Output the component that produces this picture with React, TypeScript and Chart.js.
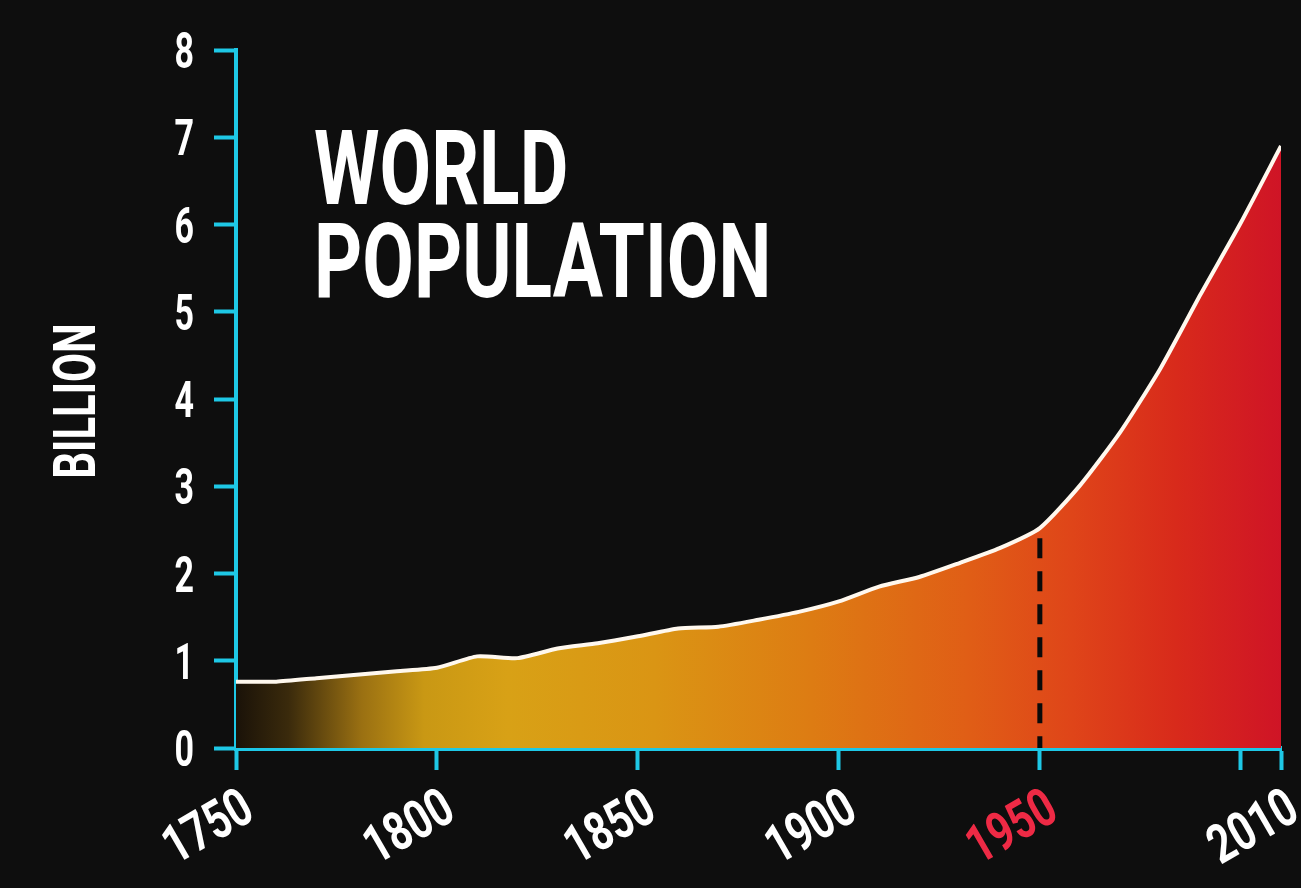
import { useEffect, useRef } from 'react';
import { Chart, registerables } from 'chart.js';

Chart.register(...registerables);

// ---- data ----
const YEARS = [1750, 1760, 1770, 1780, 1790, 1800, 1810, 1820, 1830, 1840, 1850, 1860, 1870, 1880, 1890, 1900, 1910, 1920, 1930, 1940, 1950, 1960, 1970, 1980, 1990, 2000, 2010];
const POPULATION = [0.76, 0.76, 0.8, 0.84, 0.88, 0.92, 1.05, 1.03, 1.14, 1.2, 1.28, 1.37, 1.39, 1.47, 1.56, 1.68, 1.85, 1.96, 2.12, 2.29, 2.52, 3.01, 3.62, 4.35, 5.2, 6.02, 6.9];
const X_TICKS = [1750, 1800, 1850, 1900, 1950, 2000, 2010];
const X_LABELS = ['1750', '1800', '1850', '1900', '1950', '', '2010'];
const HIGHLIGHT_YEAR = 1950;
const Y_TICKS = [0, 1, 2, 3, 4, 5, 6, 7, 8];
const Y_TITLE = 'BILLION';
const TITLE_LINES = ['WORLD', 'POPULATION'];

// ---- style ----
const FONT = "Roboto, 'DejaVu Sans Condensed', sans-serif";
const CYAN = '#1ec8e6';
const RED = '#ee2a45';
const WHITE = '#ffffff';
const BG = '#0e0e0e';

function drawText(
  ctx: CanvasRenderingContext2D,
  text: string,
  x: number,
  y: number,
  size: number,
  squeeze: number,
  color: string,
  align: CanvasTextAlign,
  angle = 0,
) {
  ctx.save();
  ctx.translate(x, y);
  if (angle) ctx.rotate(angle);
  ctx.scale(squeeze, 1);
  ctx.font = `bold ${size}px ${FONT}`;
  ctx.fillStyle = color;
  ctx.textAlign = align;
  ctx.textBaseline = 'alphabetic';
  ctx.fillText(text, 0, 0);
  ctx.restore();
}

const decorPlugin = {
  id: 'decor',
  afterDatasetsDraw(chart: any) {
    const ctx = chart.ctx as CanvasRenderingContext2D;
    const xs = chart.scales.x;
    const ys = chart.scales.y;
    const idx = YEARS.indexOf(HIGHLIGHT_YEAR);
    const px = xs.getPixelForValue(HIGHLIGHT_YEAR);
    const top = ys.getPixelForValue(POPULATION[idx]) + 10;
    ctx.save();
    ctx.strokeStyle = '#0a0a0a';
    ctx.lineWidth = 5;
    ctx.setLineDash([20, 13]);
    ctx.beginPath();
    ctx.moveTo(px, top);
    ctx.lineTo(px, chart.chartArea.bottom);
    ctx.stroke();
    ctx.restore();
  },
  afterDraw(chart: any) {
    const ctx = chart.ctx as CanvasRenderingContext2D;
    const xs = chart.scales.x;
    const ys = chart.scales.y;
    const area = chart.chartArea;

    // y tick labels
    Y_TICKS.forEach((v) => {
      const py = ys.getPixelForValue(v);
      drawText(ctx, String(v), area.left - 42, py + 18, 50, 0.68, WHITE, 'right');
    });

    // y title
    drawText(ctx, Y_TITLE, 95, (area.top + area.bottom) / 2 + 2, 60, 0.7, WHITE, 'center', -Math.PI / 2);

    // x tick labels
    X_TICKS.forEach((v, i) => {
      const label = X_LABELS[i];
      if (!label) return;
      const px = xs.getPixelForValue(v);
      const color = v === HIGHLIGHT_YEAR ? RED : WHITE;
      drawText(ctx, label, px + 21, area.bottom + 70, 54, 0.76, color, 'right', (-30 * Math.PI) / 180);
    });

    // title
    drawText(ctx, TITLE_LINES[0], 314, 204, 104, 0.72, WHITE, 'left');
    drawText(ctx, TITLE_LINES[1], 314, 297, 104, 0.72, WHITE, 'left');
  },
};

export default function App() {
  const ref = useRef<HTMLCanvasElement>(null);

  useEffect(() => {
    document.body.style.margin = '0';
    document.body.style.background = BG;
    const canvas = ref.current;
    if (!canvas) return;
    const chart = new Chart(canvas, {
      type: 'line',
      data: {
        datasets: [
          {
            label: 'World population',
            data: YEARS.map((y, i) => ({ x: y, y: POPULATION[i] })),
            borderColor: '#fff8ee',
            borderWidth: 4,
            pointRadius: 0,
            tension: 0.2,
            fill: 'origin',
            backgroundColor: (c: any) => {
              const area = c.chart.chartArea;
              if (!area) return '#d89a14';
              const g = c.chart.ctx.createLinearGradient(area.left, 0, area.right, 0);
              g.addColorStop(0, '#1a1208');
              g.addColorStop(0.05, '#3a2a0c');
              g.addColorStop(0.12, '#9a7012');
              g.addColorStop(0.18, '#c99814');
              g.addColorStop(0.26, '#d8a116');
              g.addColorStop(0.4, '#da9514');
              g.addColorStop(0.55, '#dd7c13');
              g.addColorStop(0.7, '#e05e16');
              g.addColorStop(0.8, '#df4519');
              g.addColorStop(0.9, '#d82a1b');
              g.addColorStop(1, '#cf1426');
              return g;
            },
          },
        ],
      },
      options: {
        animation: false,
        responsive: false,
        devicePixelRatio: 1,
        layout: { padding: { top: 50, right: 20, left: 0, bottom: 0 } },
        plugins: { legend: { display: false }, tooltip: { enabled: false } },
        scales: {
          x: {
            type: 'linear',
            min: 1750,
            max: 2010,
            afterBuildTicks: (scale: any) => {
              scale.ticks = X_TICKS.map((v) => ({ value: v }));
            },
            afterFit: (scale: any) => {
              scale.height = 140;
            },
            ticks: { display: false },
            grid: { drawOnChartArea: false, drawTicks: true, tickLength: 22, tickWidth: 4, tickColor: CYAN, color: CYAN },
            border: { display: true, color: CYAN, width: 5 },
          },
          y: {
            type: 'linear',
            min: 0,
            max: 8,
            afterBuildTicks: (scale: any) => {
              scale.ticks = Y_TICKS.map((v) => ({ value: v }));
            },
            afterFit: (scale: any) => {
              scale.width = 236;
            },
            ticks: { display: false },
            grid: { drawOnChartArea: false, drawTicks: true, tickLength: 22, tickWidth: 4, tickColor: CYAN, color: CYAN },
            border: { display: true, color: CYAN, width: 4 },
          },
        },
      },
      plugins: [decorPlugin],
    } as any);
    return () => chart.destroy();
  }, []);

  return (
    <div style={{ position: 'fixed', left: 0, top: 0, width: 1301, height: 888, background: BG }}>
      <canvas ref={ref} width={1301} height={888} style={{ display: 'block', width: 1301, height: 888 }} />
    </div>
  );
}
